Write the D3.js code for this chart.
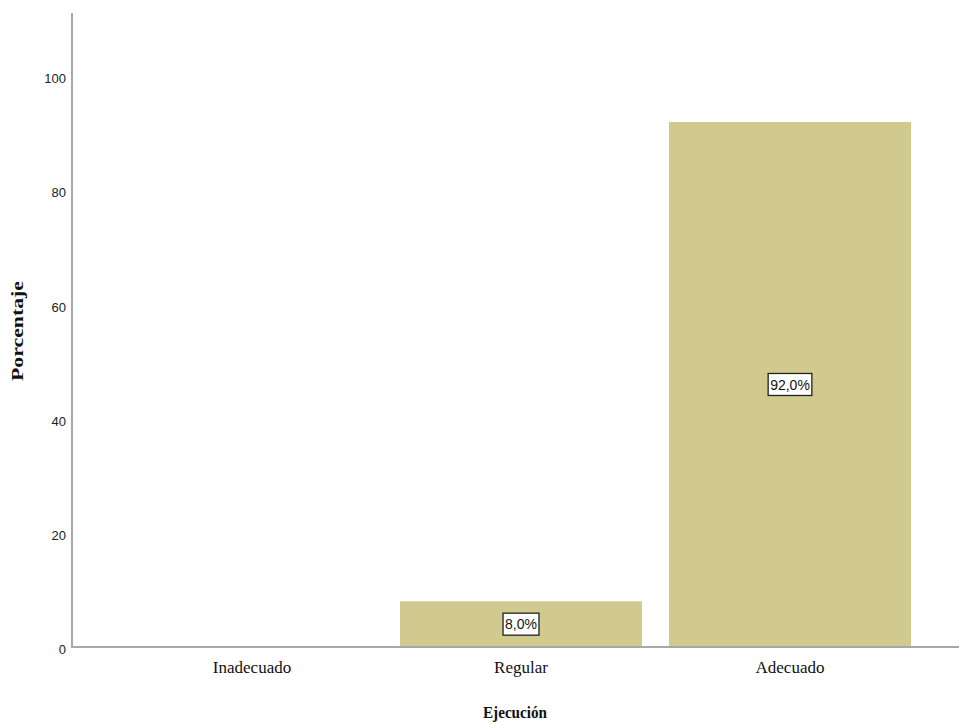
<!DOCTYPE html>
<html>
<head>
<meta charset="utf-8">
<script src="https://cdn.jsdelivr.net/npm/d3@7"></script>
<style>
  html, body { margin: 0; padding: 0; background: #fff; }
  svg { display: block; }
</style>
</head>
<body>
<svg id="chart" width="959" height="722"></svg>
<script>
const categories = ["Inadecuado", "Regular", "Adecuado"];
const values = [0, 8.0, 92.0];
const valueLabels = ["", "8,0%", "92,0%"];
const yTicks = [0, 20, 40, 60, 80, 100];
const xTitle = "Ejecución";
const yTitle = "Porcentaje";

const svg = d3.select("#chart");
const W = 959, H = 722;
const x0 = 72, yBase = 647;

const x = d3.scaleBand().domain(categories).range([117.5, 924.5]).paddingInner(0.1).paddingOuter(0.05);
const y = d3.scaleLinear().domain([0, 100]).range([yBase, 76.3]);
const yTop = y(111.1);

// bars
svg.append("g").selectAll("rect").data(categories.map((c, i) => ({c, v: values[i], l: valueLabels[i]})).filter(d => d.v > 0))
  .join("rect")
  .attr("x", d => x(d.c))
  .attr("width", x.bandwidth())
  .attr("y", d => y(d.v))
  .attr("height", d => yBase - y(d.v))
  .attr("fill", "#d0ca8e");

// axes lines
svg.append("line").attr("x1", x0).attr("x2", x0).attr("y1", yTop).attr("y2", yBase + 1)
  .attr("stroke", "#a8a8a8").attr("stroke-width", 2);
svg.append("line").attr("x1", x0 - 1).attr("x2", W).attr("y1", yBase).attr("y2", yBase)
  .attr("stroke", "#a8a8a8").attr("stroke-width", 2);

// y axis via d3 axis (no tick lines)
const yAxis = d3.axisLeft(y).tickValues(yTicks).tickSize(0).tickPadding(0).tickFormat(d3.format("d"));
const gy = svg.append("g").attr("transform", `translate(${x0 - 6},0)`).call(yAxis);
gy.select(".domain").remove();
gy.selectAll("text")
  .attr("font-family", "'Liberation Sans Narrow', 'Liberation Sans', Arial, sans-serif")
  .attr("font-size", 13).attr("fill", "#222").attr("dy", "0.5em");

// x axis labels
const xAxis = d3.axisBottom(x).tickSize(0).tickPadding(0);
const gx = svg.append("g").attr("transform", `translate(0,${yBase})`).call(xAxis);
gx.select(".domain").remove();
gx.selectAll("text")
  .attr("font-family", "'Liberation Serif', 'Times New Roman', serif")
  .attr("font-size", 17).attr("fill", "#111").attr("y", 14).attr("dy", "0.71em");

// value labels with boxes
const lbl = svg.append("g").selectAll("g")
  .data(categories.map((c, i) => ({c, v: values[i], l: valueLabels[i]})).filter(d => d.v > 0))
  .join("g")
  .attr("transform", d => `translate(${x(d.c) + x.bandwidth() / 2},${(y(d.v) + yBase) / 2})`);
lbl.append("rect").attr("fill", "#fff").attr("stroke", "#222").attr("stroke-width", 1.3);
lbl.append("text")
  .attr("text-anchor", "middle").attr("dy", "0.36em")
  .attr("font-family", "'Liberation Sans Narrow', 'Liberation Sans', Arial, sans-serif")
  .attr("font-size", 14).attr("fill", "#111")
  .text(d => d.l);
lbl.each(function() {
  const g = d3.select(this);
  const bb = g.select("text").node().getBBox();
  g.select("rect").attr("x", bb.x - 2).attr("y", -11).attr("width", bb.width + 4).attr("height", 22);
});

// titles
svg.append("text").attr("x", 515).attr("y", 718).attr("text-anchor", "middle")
  .attr("font-family", "'Liberation Serif', 'Times New Roman', serif")
  .attr("font-weight", "bold").attr("font-size", 16).attr("fill", "#111")
  .attr("textLength", 64).attr("lengthAdjust", "spacingAndGlyphs")
  .text(xTitle);
svg.append("text").attr("transform", "translate(23,331) rotate(-90)").attr("text-anchor", "middle")
  .attr("font-family", "'Liberation Serif', 'Times New Roman', serif")
  .attr("font-weight", "bold").attr("font-size", 16).attr("fill", "#111")
  .attr("textLength", 100).attr("lengthAdjust", "spacingAndGlyphs")
  .text(yTitle);
</script>
</body>
</html>
